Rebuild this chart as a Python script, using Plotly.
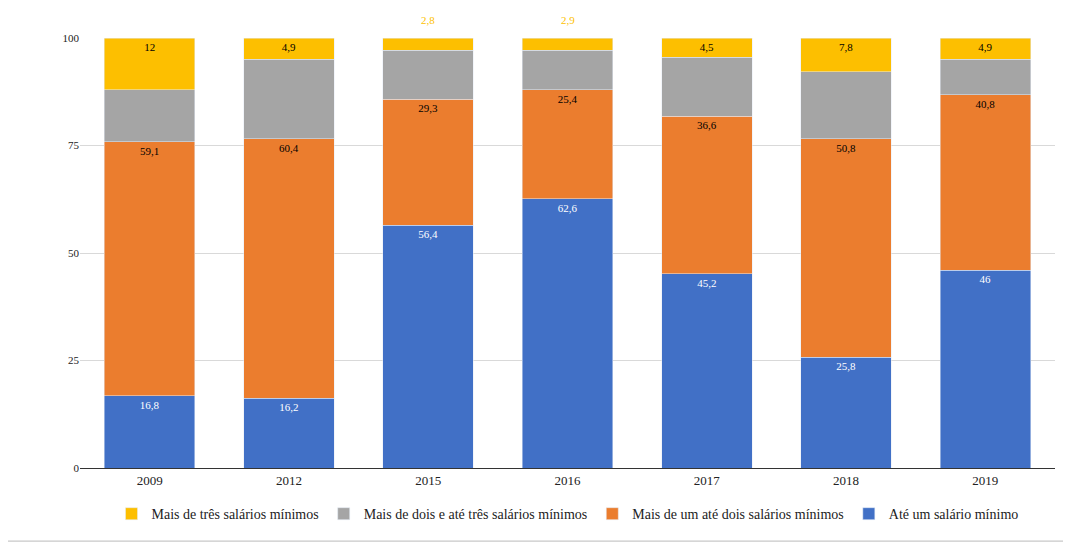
import plotly.graph_objects as go

years = ["2009", "2012", "2015", "2016", "2017", "2018", "2019"]
ate_um = [16.8, 16.2, 56.4, 62.6, 45.2, 25.8, 46]
um_dois = [59.1, 60.4, 29.3, 25.4, 36.6, 50.8, 40.8]
dois_tres = [12.1, 18.5, 11.5, 9.1, 13.7, 15.6, 8.3]
mais_tres = [12, 4.9, 2.8, 2.9, 4.5, 7.8, 4.9]

def fmt(v):
    s = f"{v:g}"
    return s.replace(".", ",")

fig = go.Figure()
series = [
    ("Até um salário mínimo", ate_um, "#4170c6", "white", True),
    ("Mais de um até dois salários mínimos", um_dois, "#eb7d2e", "black", True),
    ("Mais de dois e até três salários mínimos", dois_tres, "#a5a5a5", "black", False),
    ("Mais de três salários mínimos", mais_tres, "#fdbf00", "black", True),
]
for name, vals, col, tc, lab in series:
    texts = [fmt(v) if lab and v >= 4 else "" for v in vals]
    fig.add_trace(go.Bar(name=name, x=years, y=vals, marker_color=col,
                         text=texts, textposition="inside", insidetextanchor="end",
                         textfont=dict(color=tc, size=11, family="Liberation Serif"),
                         textangle=0, hoverinfo="skip"))

for i, v in enumerate(mais_tres):
    if v < 4:
        fig.add_annotation(x=i, y=100, xref="x", yref="y", text=fmt(v), showarrow=False,
                           yshift=18, font=dict(color="#fdbf00", size=11, family="Liberation Serif"))

line = dict(color="#bbb", width=1)
fig.update_layout(
    barmode="stack", bargap=0.35, width=1071, height=545,
    paper_bgcolor="white", plot_bgcolor="white",
    margin=dict(l=72, r=24, t=30, b=85, autoexpand=False),
    font=dict(family="Liberation Serif", size=12, color="#222"),
    legend=dict(orientation="h", traceorder="reversed", x=0.5, xanchor="center",
                y=-0.07, yanchor="top", font=dict(size=14, family="Liberation Serif"),
                itemwidth=30),
    uniformtext=dict(minsize=8, mode="show"),
    shapes=[
        dict(type="line", xref="paper", yref="paper", x0=-0.081, x1=-0.081, y0=-0.17, y1=1.07, line=line),
        dict(type="line", xref="paper", yref="paper", x0=1.012, x1=1.012, y0=-0.17, y1=1.07, line=line),
        dict(type="line", xref="paper", yref="paper", x0=-0.081, x1=1.012, y0=-0.17, y1=-0.17, line=line),
    ],
)
fig.update_yaxes(range=[0, 100], tickvals=[0, 25, 50, 75, 100], gridcolor="#d9d9d9",
                 zeroline=False, showline=False, ticks="", tickfont=dict(size=11))
fig.update_xaxes(type="category", range=[-0.5, 6.5], showline=True, linecolor="#333",
                 tickfont=dict(size=13))
fig.write_html("out.html")
